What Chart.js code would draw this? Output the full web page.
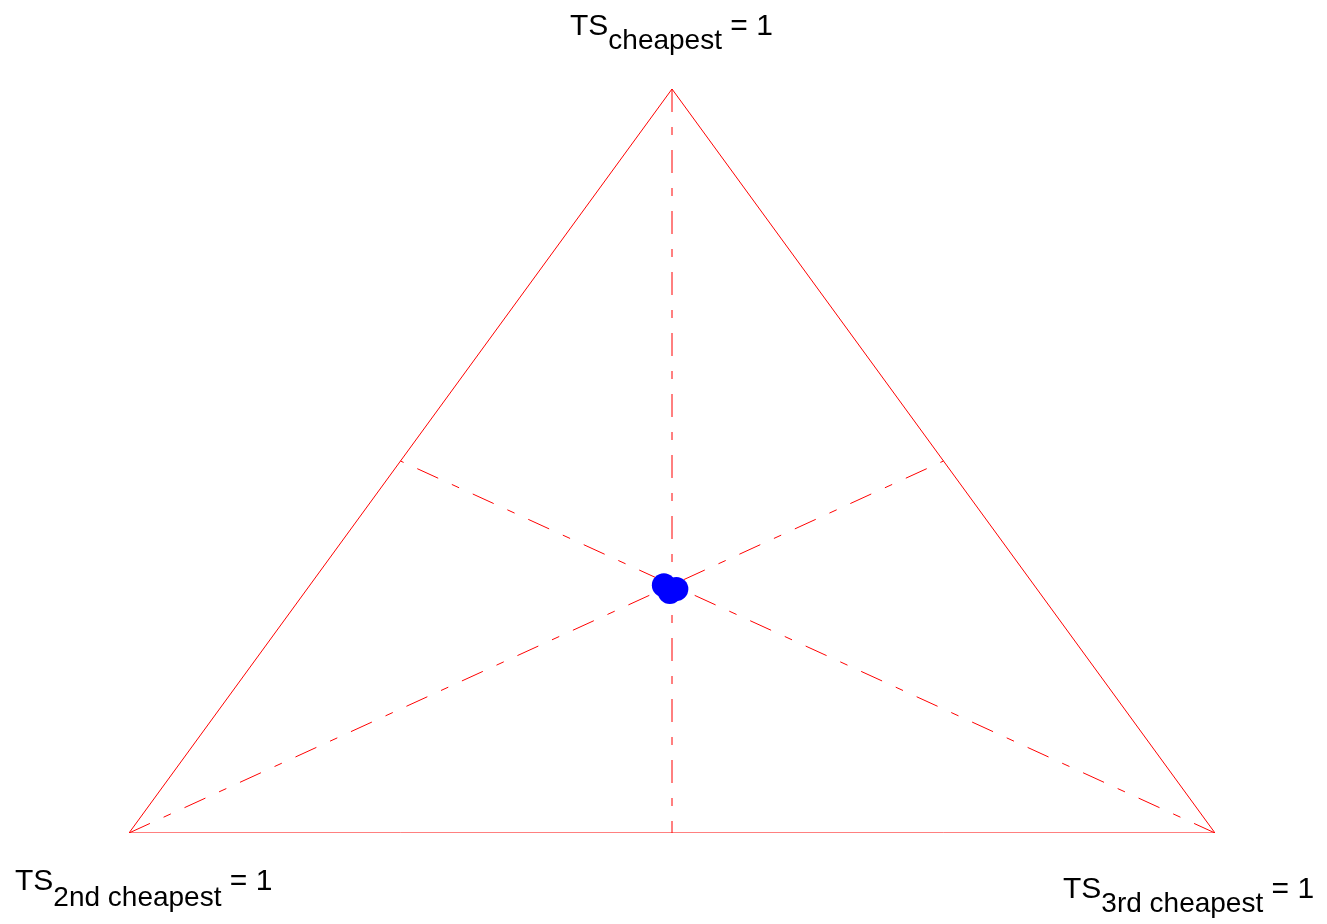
<!DOCTYPE html>
<html>
<head>
<meta charset="utf-8">
<script src="https://cdn.jsdelivr.net/npm/chart.js@4/dist/chart.umd.min.js"></script>
<style>
html,body{margin:0;padding:0;background:#fff;}
#wrap{width:1327px;height:924px;position:relative;}
</style>
</head>
<body>
<div id="wrap"><canvas id="c" width="1327" height="924"></canvas></div>
<script>
// Ternary vertices: [cheapest, 2nd cheapest, 3rd cheapest]
const vertexNames = ["cheapest", "2nd cheapest", "3rd cheapest"];
const vertices = [[1,0,0],[0,1,0],[0,0,1]];
// Observed shares (cheapest, 2nd, 3rd)
const shareCheapest = [0.333, 0.328, 0.324];
const share2nd      = [0.341, 0.332, 0.340];
const share3rd      = [0.326, 0.340, 0.336];

// ternary -> plane (x: 2nd cheapest=0 .. 3rd cheapest=1, y: cheapest share)
function proj(t){ return {x: t[2] + 0.5*t[0], y: t[0]}; }

const triangle = [vertices[0], vertices[1], vertices[2], vertices[0]].map(proj);
function mid(a,b){ return a.map((v,i)=>(v+b[i])/2); }
const medians = [
  [proj(vertices[0]), proj(mid(vertices[1],vertices[2]))],
  [proj(vertices[1]), proj(mid(vertices[0],vertices[2]))],
  [proj(vertices[2]), proj(mid(vertices[0],vertices[1]))]
];
const pts = shareCheapest.map((v,i)=>proj([v, share2nd[i], share3rd[i]]));

const RED = '#ff0000';
const dash = [23,15,8,15];

const labelPlugin = {
  id:'labels',
  afterDraw(chart){
    const ctx = chart.ctx;
    ctx.save();
    ctx.fillStyle = '#000';
    ctx.textBaseline = 'alphabetic';
    const mainF = '30px "Liberation Sans", Arial, sans-serif';
    const subF = '28px "Liberation Sans", Arial, sans-serif';
    function draw(x, base, sub, subOff){
      ctx.font = mainF; ctx.fillText('TS', x, base);
      x += ctx.measureText('TS').width;
      ctx.font = subF; ctx.fillText(sub, x, base+subOff);
      x += ctx.measureText(sub).width;
      ctx.font = mainF; ctx.fillText(' = 1', x, base);
    }
    draw(570, 35, vertexNames[0], 14);
    draw(15, 890, vertexNames[1], 16);
    draw(1063, 898, vertexNames[2], 14);
    ctx.restore();
  }
};

const datasets = [
  {data: triangle, showLine:true, borderColor:RED, borderWidth:1, pointRadius:0, fill:false, tension:0, order:2},
  ...medians.map(m=>({data:m, showLine:true, borderColor:RED, borderWidth:1, borderDash:dash, pointRadius:0, fill:false, order:2})),
  {data: pts, showLine:false, pointRadius:12, pointBackgroundColor:'#0000ff', pointBorderWidth:0, pointBorderColor:'#0000ff', order:1}
];

new Chart(document.getElementById('c'), {
  type:'scatter',
  data:{datasets},
  options:{
    responsive:false,
    animation:false,
    layout:{padding:{left:129, right:112, top:89, bottom:91}},
    plugins:{legend:{display:false}, tooltip:{enabled:false}},
    scales:{
      x:{type:'linear', min:0, max:1, display:false},
      y:{type:'linear', min:0, max:1, display:false}
    }
  },
  plugins:[labelPlugin]
});
</script>
</body>
</html>
